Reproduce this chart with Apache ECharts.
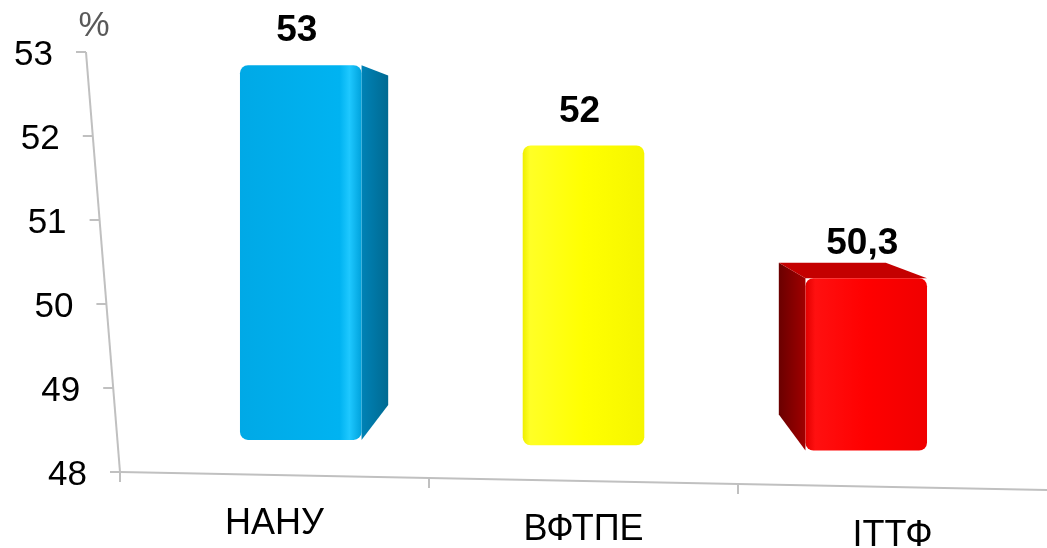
<!DOCTYPE html>
<html>
<head>
<meta charset="utf-8">
<script src="https://cdn.jsdelivr.net/npm/echarts@6/dist/echarts.min.js"></script>
<style>
  html, body { margin: 0; padding: 0; background: #fff; }
  #chart { width: 1047px; height: 548px; }
</style>
</head>
<body>
<div id="chart"></div>
<script>
// данные
const categories = ['НАНУ', 'ВФТПЕ', 'ІТТФ'];
const values = [53, 52, 50.3];
const yTicks = [48, 49, 50, 51, 52, 53];

// оформление (цвета граней)
const frontStops = [
  [[0, '#00a9e6'], [0.82, '#00b3f1'], [0.9, '#1ec8ff'], [1, '#00a2dc']],
  [[0, '#eeee00'], [0.06, '#ffff26'], [0.5, '#ffff00'], [1, '#f6f600']],
  [[0, '#e00000'], [0.08, '#ff1010'], [0.5, '#ff0000'], [1, '#f00000']]
];
const sideColors = [['#0082b6', '#006a92'], ['#c8c800', '#a8a800'], ['#a00000', '#6a0000']];
const topColors = ['#30c0f0', '#e6e600', '#c40000'];

const GRID = { left: 120, top: 52, right: 0, bottom: 76, outerBoundsMode: 'none' };
const Y_SLOPE = 0.081;   // наклон вертикальной оси
const X_SLOPE = 0.0194;  // наклон горизонтальной оси
const BAR_RATIO = 0.43;
const FRONT_DEPTH = [0.915, 0.892]; // сдвиг столбцов вглубь (x, y)
const BACK_DEPTH = 0.88;
const VP = [0.5, 0.233];   // точка схода, доли сетки
const FONT = '"Liberation Sans", Arial, sans-serif';

const chart = echarts.init(document.getElementById('chart'));

const yMin = yTicks[0];
const yMax = yTicks[yTicks.length - 1];
const plotH = 548 - GRID.top - GRID.bottom;
const plotW = 1047 - GRID.left - GRID.right;
const yShift = Y_SLOPE * plotH / (yMax - yMin);

const yRich = {};
yTicks.forEach(v => {
  yRich['t' + v] = { fontSize: 35, fontFamily: FONT, color: '#000', padding: [6, (v - yMin) * yShift, 0, 0] };
});
const xRich = {};
categories.forEach((c, i) => {
  xRich['c' + i] = { fontSize: 36, fontFamily: FONT, color: '#000', padding: [X_SLOPE * (i + 0.5) * plotW / categories.length, 0, 0, 0] };
});

function renderFrame(params, api) {
  const cs = params.coordSys;
  const bottom = cs.y + cs.height;
  const style = { stroke: '#c0c0c0', lineWidth: 2 };
  const yx = y => cs.x - (bottom - y) * Y_SLOPE;
  const children = [];
  children.push({ type: 'line', shape: { x1: yx(cs.y), y1: cs.y, x2: cs.x, y2: bottom }, style });
  yTicks.forEach(v => {
    const y = api.coord([0, v])[1];
    children.push({ type: 'line', shape: { x1: yx(y) - 10, y1: y, x2: yx(y), y2: y }, style });
  });
  children.push({ type: 'line', shape: { x1: cs.x, y1: bottom, x2: cs.x + cs.width, y2: bottom + cs.width * X_SLOPE }, style });
  const band = api.size([1, 0])[0];
  categories.forEach((c, i) => {
    const x = api.coord([i, yMin])[0] - band / 2;
    const y = bottom + (x - cs.x) * X_SLOPE;
    children.push({ type: 'line', shape: { x1: x, y1: y, x2: x, y2: y + 10 }, style });
  });
  return { type: 'group', children };
}

function renderBar(params, api) {
  const cs = params.coordSys;
  const i = api.value(0);
  const v = api.value(1);
  const base = api.coord([i, yMin]);
  const top = api.coord([i, v]);
  const w = api.size([1, 0])[0] * BAR_RATIO;
  const lift = (base[0] - cs.x) * X_SLOPE;
  const vp = [cs.x + cs.width * VP[0], cs.y + cs.height * VP[1]];
  const proj = (p, sx, sy) => [vp[0] + (p[0] - vp[0]) * sx, vp[1] + (p[1] - vp[1]) * sy];

  const fTL = proj([base[0] - w / 2, top[1] + lift], FRONT_DEPTH[0], FRONT_DEPTH[1]);
  const fBR = proj([base[0] + w / 2, base[1] + lift], FRONT_DEPTH[0], FRONT_DEPTH[1]);
  const fTR = [fBR[0], fTL[1]];
  const fBL = [fTL[0], fBR[1]];
  const bTL = proj(fTL, BACK_DEPTH, BACK_DEPTH);
  const bTR = proj(fTR, BACK_DEPTH, BACK_DEPTH);
  const bBR = proj(fBR, BACK_DEPTH, BACK_DEPTH);
  const bBL = proj(fBL, BACK_DEPTH, BACK_DEPTH);

  const idx = params.dataIndex;
  const children = [];
  if (bTR[0] > fTR[0]) {
    children.push({
      type: 'polygon', shape: { points: [fTR, bTR, bBR, fBR] },
      style: { fill: new echarts.graphic.LinearGradient(0, 0, 1, 0, [{ offset: 0, color: sideColors[idx][0] }, { offset: 1, color: sideColors[idx][1] }]) }
    });
  }
  if (bTL[0] < fTL[0]) {
    children.push({
      type: 'polygon', shape: { points: [fTL, bTL, bBL, fBL] },
      style: { fill: new echarts.graphic.LinearGradient(1, 0, 0, 0, [{ offset: 0, color: sideColors[idx][0] }, { offset: 1, color: sideColors[idx][1] }]) }
    });
  }
  if (bTL[1] < fTL[1]) {
    children.push({
      type: 'polygon', shape: { points: [fTL, fTR, bTR, bTL] },
      style: { fill: topColors[idx] }
    });
  }
  children.push({
    type: 'rect',
    shape: { x: fTL[0], y: fTL[1], width: fBR[0] - fTL[0], height: fBR[1] - fTL[1], r: 8 },
    style: { fill: new echarts.graphic.LinearGradient(0, 0, 1, 0, frontStops[idx].map(s => ({ offset: s[0], color: s[1] }))) }
  });
  children.push({
    type: 'text',
    style: {
      text: String(v).replace('.', ','),
      x: (fTL[0] + fBR[0]) / 2 - 4,
      y: fTL[1] - 34,
      align: 'center',
      verticalAlign: 'middle',
      fontSize: 37,
      fontWeight: 'bold',
      fontFamily: FONT,
      fill: '#000'
    }
  });
  return { type: 'group', children };
}

chart.setOption({
  animation: false,
  grid: GRID,
  xAxis: {
    type: 'category',
    data: categories,
    axisLine: { show: false },
    axisTick: { show: false },
    axisLabel: {
      margin: 31,
      formatter: (val, i) => '{c' + i + '|' + val + '}',
      rich: xRich
    }
  },
  yAxis: {
    type: 'value',
    min: yMin,
    max: yMax,
    interval: 1,
    name: '%',
    nameGap: 8,
    nameTextStyle: { fontSize: 35, fontFamily: FONT, color: '#595959', align: 'center', verticalAlign: 'bottom', padding: [0, 52, 0, 0] },
    axisLine: { show: false },
    axisTick: { show: false },
    splitLine: { show: false },
    axisLabel: {
      margin: 33,
      formatter: v => '{t' + v + '|' + v + '}',
      rich: yRich
    }
  },
  series: [
    {
      type: 'custom',
      silent: true,
      renderItem: renderFrame,
      data: [[0, yMin]],
      z: 1
    },
    {
      type: 'custom',
      renderItem: renderBar,
      clip: false,
      data: values.map((v, i) => [i, v]),
      encode: { x: 0, y: 1 },
      z: 2
    }
  ]
});
</script>
</body>
</html>
